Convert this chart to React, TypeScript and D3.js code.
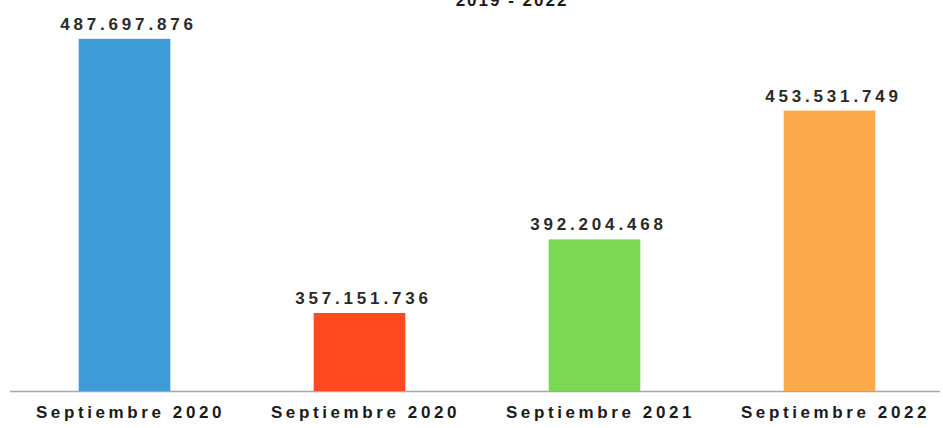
import { useEffect, useRef } from 'react'
import * as d3 from 'd3'

// Values from the scanned chart (y axis does not start at zero)
const categories = ['Septiembre 2020', 'Septiembre 2020', 'Septiembre 2021', 'Septiembre 2022']
const values = [487697876, 357151736, 392204468, 453531749]
const colors = ['#3d9bd5', '#ff4a1e', '#7cd853', '#fcaa4c']
const title = '2019 - 2022'

const fmt = (v: number) => d3.format(',')(v).replace(/,/g, '.')

export default function App() {
  const svgRef = useRef<SVGSVGElement>(null)

  useEffect(() => {
    if (!svgRef.current) return
    const svg = d3.select(svgRef.current)
    svg.selectAll('*').remove()

    const width = 943
    const height = 428
    const baseY = 391

    const x = d3.scaleBand<number>()
      .domain(d3.range(categories.length))
      .range([7, 947])
      .paddingInner(0.61)
      .paddingOuter(0.305)

    const y = d3.scaleLinear().domain([320e6, 500e6]).range([baseY, 13])

    svg.attr('width', width).attr('height', height)

    svg.append('rect').attr('width', width).attr('height', height).attr('fill', '#fff')

    // title, partly cut by the top edge as in the scan
    svg.append('text')
      .attr('x', 512)
      .attr('y', 6)
      .attr('text-anchor', 'middle')
      .attr('font-family', 'Liberation Sans, Arial, sans-serif')
      .attr('font-weight', 'bold')
      .attr('font-size', '17px')
      .attr('letter-spacing', '2px')
      .attr('fill', '#1a1a1a')
      .text(title)

    // axis line
    svg.append('line')
      .attr('x1', 10).attr('x2', 940)
      .attr('y1', baseY + 0.5).attr('y2', baseY + 0.5)
      .attr('stroke', '#a8a8a8')
      .attr('stroke-width', 1.5)

    const g = svg.append('g')

    g.selectAll('rect.bar')
      .data(values)
      .enter()
      .append('rect')
      .attr('class', 'bar')
      .attr('x', (_, i) => x(i)!)
      .attr('width', x.bandwidth())
      .attr('y', (d) => y(d))
      .attr('height', (d) => baseY - y(d))
      .attr('fill', (_, i) => colors[i])

    // value labels
    g.selectAll('text.val')
      .data(values)
      .enter()
      .append('text')
      .attr('class', 'val')
      .attr('x', (_, i) => x(i)! + x.bandwidth() / 2 + 4)
      .attr('y', (d) => y(d) - 9)
      .attr('text-anchor', 'middle')
      .attr('font-family', 'Liberation Sans, Arial, sans-serif')
      .attr('font-weight', 'bold')
      .attr('font-size', '17px')
      .attr('letter-spacing', '3.8px')
      .attr('fill', '#2a2a2a')
      .text((d) => fmt(d))

    // category labels
    g.selectAll('text.cat')
      .data(categories)
      .enter()
      .append('text')
      .attr('class', 'cat')
      .attr('x', (_, i) => x(i)! + x.bandwidth() / 2 + 6)
      .attr('y', 418)
      .attr('text-anchor', 'middle')
      .attr('font-family', 'Liberation Sans, Arial, sans-serif')
      .attr('font-weight', 'bold')
      .attr('font-size', '17px')
      .attr('letter-spacing', '3.6px')
      .attr('fill', '#1a1a1a')
      .text((d) => d)
  }, [])

  return (
    <div style={{ position: 'absolute', left: 0, top: 0 }}>
      <svg ref={svgRef} style={{ display: 'block' }} />
    </div>
  )
}
